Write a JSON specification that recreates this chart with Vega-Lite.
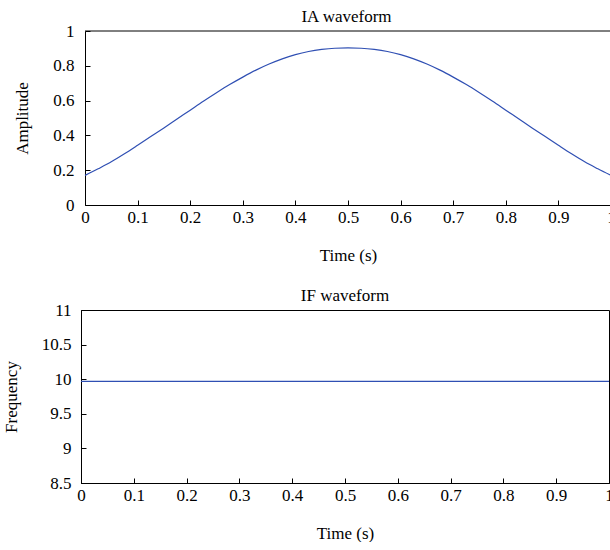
{
  "$schema": "https://vega.github.io/schema/vega-lite/v6.json",
  "padding": {"left": 1, "top": 7, "right": 0, "bottom": 0},
  "config": {
    "font": "Liberation Serif",
    "view": {"stroke": "black", "strokeWidth": 1},
    "axis": {
      "grid": false,
      "domainColor": "black",
      "tickColor": "black",
      "labelColor": "black",
      "titleColor": "black",
      "labelFontSize": 17,
      "titleFontSize": 17,
      "titleFontWeight": "normal",
      "tickSize": -5,
      "labelOverlap": false,
      "labelBound": false,
      "labelFlush": false
    },
    "title": {"fontSize": 17, "fontWeight": "normal", "color": "black", "offset": -3.5}
  },
  "columns": 1,
  "spacing": 23,
  "concat": [
    {
      "title": "IA waveform",
      "width": 531,
      "height": 174,
      "view": {"stroke": null},
      "layer": [
        {
          "data": {"values": [
            {"t": 0.0, "a": 0.170}, {"t": 0.025, "a": 0.208}, {"t": 0.05, "a": 0.248}, {"t": 0.075, "a": 0.294},
            {"t": 0.1, "a": 0.343}, {"t": 0.125, "a": 0.393}, {"t": 0.15, "a": 0.443}, {"t": 0.175, "a": 0.494},
            {"t": 0.2, "a": 0.545}, {"t": 0.225, "a": 0.596}, {"t": 0.25, "a": 0.645}, {"t": 0.275, "a": 0.692},
            {"t": 0.3, "a": 0.735}, {"t": 0.325, "a": 0.775}, {"t": 0.35, "a": 0.810}, {"t": 0.375, "a": 0.840},
            {"t": 0.4, "a": 0.864}, {"t": 0.425, "a": 0.882}, {"t": 0.45, "a": 0.894}, {"t": 0.475, "a": 0.901},
            {"t": 0.5, "a": 0.903}, {"t": 0.525, "a": 0.901}, {"t": 0.55, "a": 0.894}, {"t": 0.575, "a": 0.882},
            {"t": 0.6, "a": 0.864}, {"t": 0.625, "a": 0.840}, {"t": 0.65, "a": 0.810}, {"t": 0.675, "a": 0.775},
            {"t": 0.7, "a": 0.735}, {"t": 0.725, "a": 0.692}, {"t": 0.75, "a": 0.645}, {"t": 0.775, "a": 0.596},
            {"t": 0.8, "a": 0.545}, {"t": 0.825, "a": 0.494}, {"t": 0.85, "a": 0.443}, {"t": 0.875, "a": 0.393},
            {"t": 0.9, "a": 0.343}, {"t": 0.925, "a": 0.294}, {"t": 0.95, "a": 0.248}, {"t": 0.975, "a": 0.208},
            {"t": 1.0, "a": 0.170}
          ]},
          "mark": {"type": "line", "color": "#2f4fb3", "strokeWidth": 1.2, "interpolate": "monotone"},
          "encoding": {
            "x": {"field": "t", "type": "quantitative", "scale": {"domain": [0, 1], "nice": false, "range": [4, 530]},
                  "axis": {"title": "Time (s)", "values": [0, 0.1, 0.2, 0.3, 0.4, 0.5, 0.6, 0.7, 0.8, 0.9, 1], "format": "~g", "labelPadding": 9, "titlePadding": 22}},
            "y": {"field": "a", "type": "quantitative", "scale": {"domain": [0, 1], "nice": false},
                  "axis": {"title": "Amplitude", "values": [0, 0.2, 0.4, 0.6, 0.8, 1], "format": "~g", "labelPadding": 16, "titlePadding": 21, "offset": -4}}
          }
        },
        {
          "data": {"values": [{"x0": 0, "x1": 1, "yv": 1}]},
          "mark": {"type": "rule", "color": "black", "strokeWidth": 1},
          "encoding": {
            "x": {"field": "x0", "type": "quantitative",
                  "axis": {"title": "Time (s)", "values": [0, 0.1, 0.2, 0.3, 0.4, 0.5, 0.6, 0.7, 0.8, 0.9, 1], "format": "~g", "labelPadding": 9, "titlePadding": 22}},
            "x2": {"field": "x1"},
            "y": {"field": "yv", "type": "quantitative",
                  "axis": {"title": "Amplitude", "values": [0, 0.2, 0.4, 0.6, 0.8, 1], "format": "~g", "labelPadding": 16, "titlePadding": 21, "offset": -4}}
          }
        },
        {
          "data": {"values": [{"xv": 1, "y0": 0, "y1": 1}]},
          "mark": {"type": "rule", "color": "black", "strokeWidth": 1},
          "encoding": {
            "x": {"field": "xv", "type": "quantitative",
                  "axis": {"title": "Time (s)", "values": [0, 0.1, 0.2, 0.3, 0.4, 0.5, 0.6, 0.7, 0.8, 0.9, 1], "format": "~g", "labelPadding": 9, "titlePadding": 22}},
            "y": {"field": "y0", "type": "quantitative",
                  "axis": {"title": "Amplitude", "values": [0, 0.2, 0.4, 0.6, 0.8, 1], "format": "~g", "labelPadding": 16, "titlePadding": 21, "offset": -4}},
            "y2": {"field": "y1"}
          }
        }
      ]
    },
    {
      "title": "IF waveform",
      "width": 528,
      "height": 173,
      "data": {"values": [
        {"t": 0.0, "f": 9.97}, {"t": 0.1, "f": 9.97}, {"t": 0.2, "f": 9.97}, {"t": 0.3, "f": 9.97},
        {"t": 0.4, "f": 9.97}, {"t": 0.5, "f": 9.97}, {"t": 0.6, "f": 9.97}, {"t": 0.7, "f": 9.97},
        {"t": 0.8, "f": 9.97}, {"t": 0.9, "f": 9.97}, {"t": 1.0, "f": 9.97}
      ]},
      "mark": {"type": "line", "color": "#2f4fb3", "strokeWidth": 1.2},
      "encoding": {
        "x": {"field": "t", "type": "quantitative", "scale": {"domain": [0, 1], "nice": false},
              "axis": {"title": "Time (s)", "values": [0, 0.1, 0.2, 0.3, 0.4, 0.5, 0.6, 0.7, 0.8, 0.9, 1], "format": "~g", "labelPadding": 9, "titlePadding": 22}},
        "y": {"field": "f", "type": "quantitative", "scale": {"domain": [8.5, 11], "nice": false, "zero": false},
              "axis": {"title": "Frequency", "values": [8.5, 9, 9.5, 10, 10.5, 11], "format": "~g", "labelPadding": 15, "titlePadding": 21}}
      }
    }
  ]
}
